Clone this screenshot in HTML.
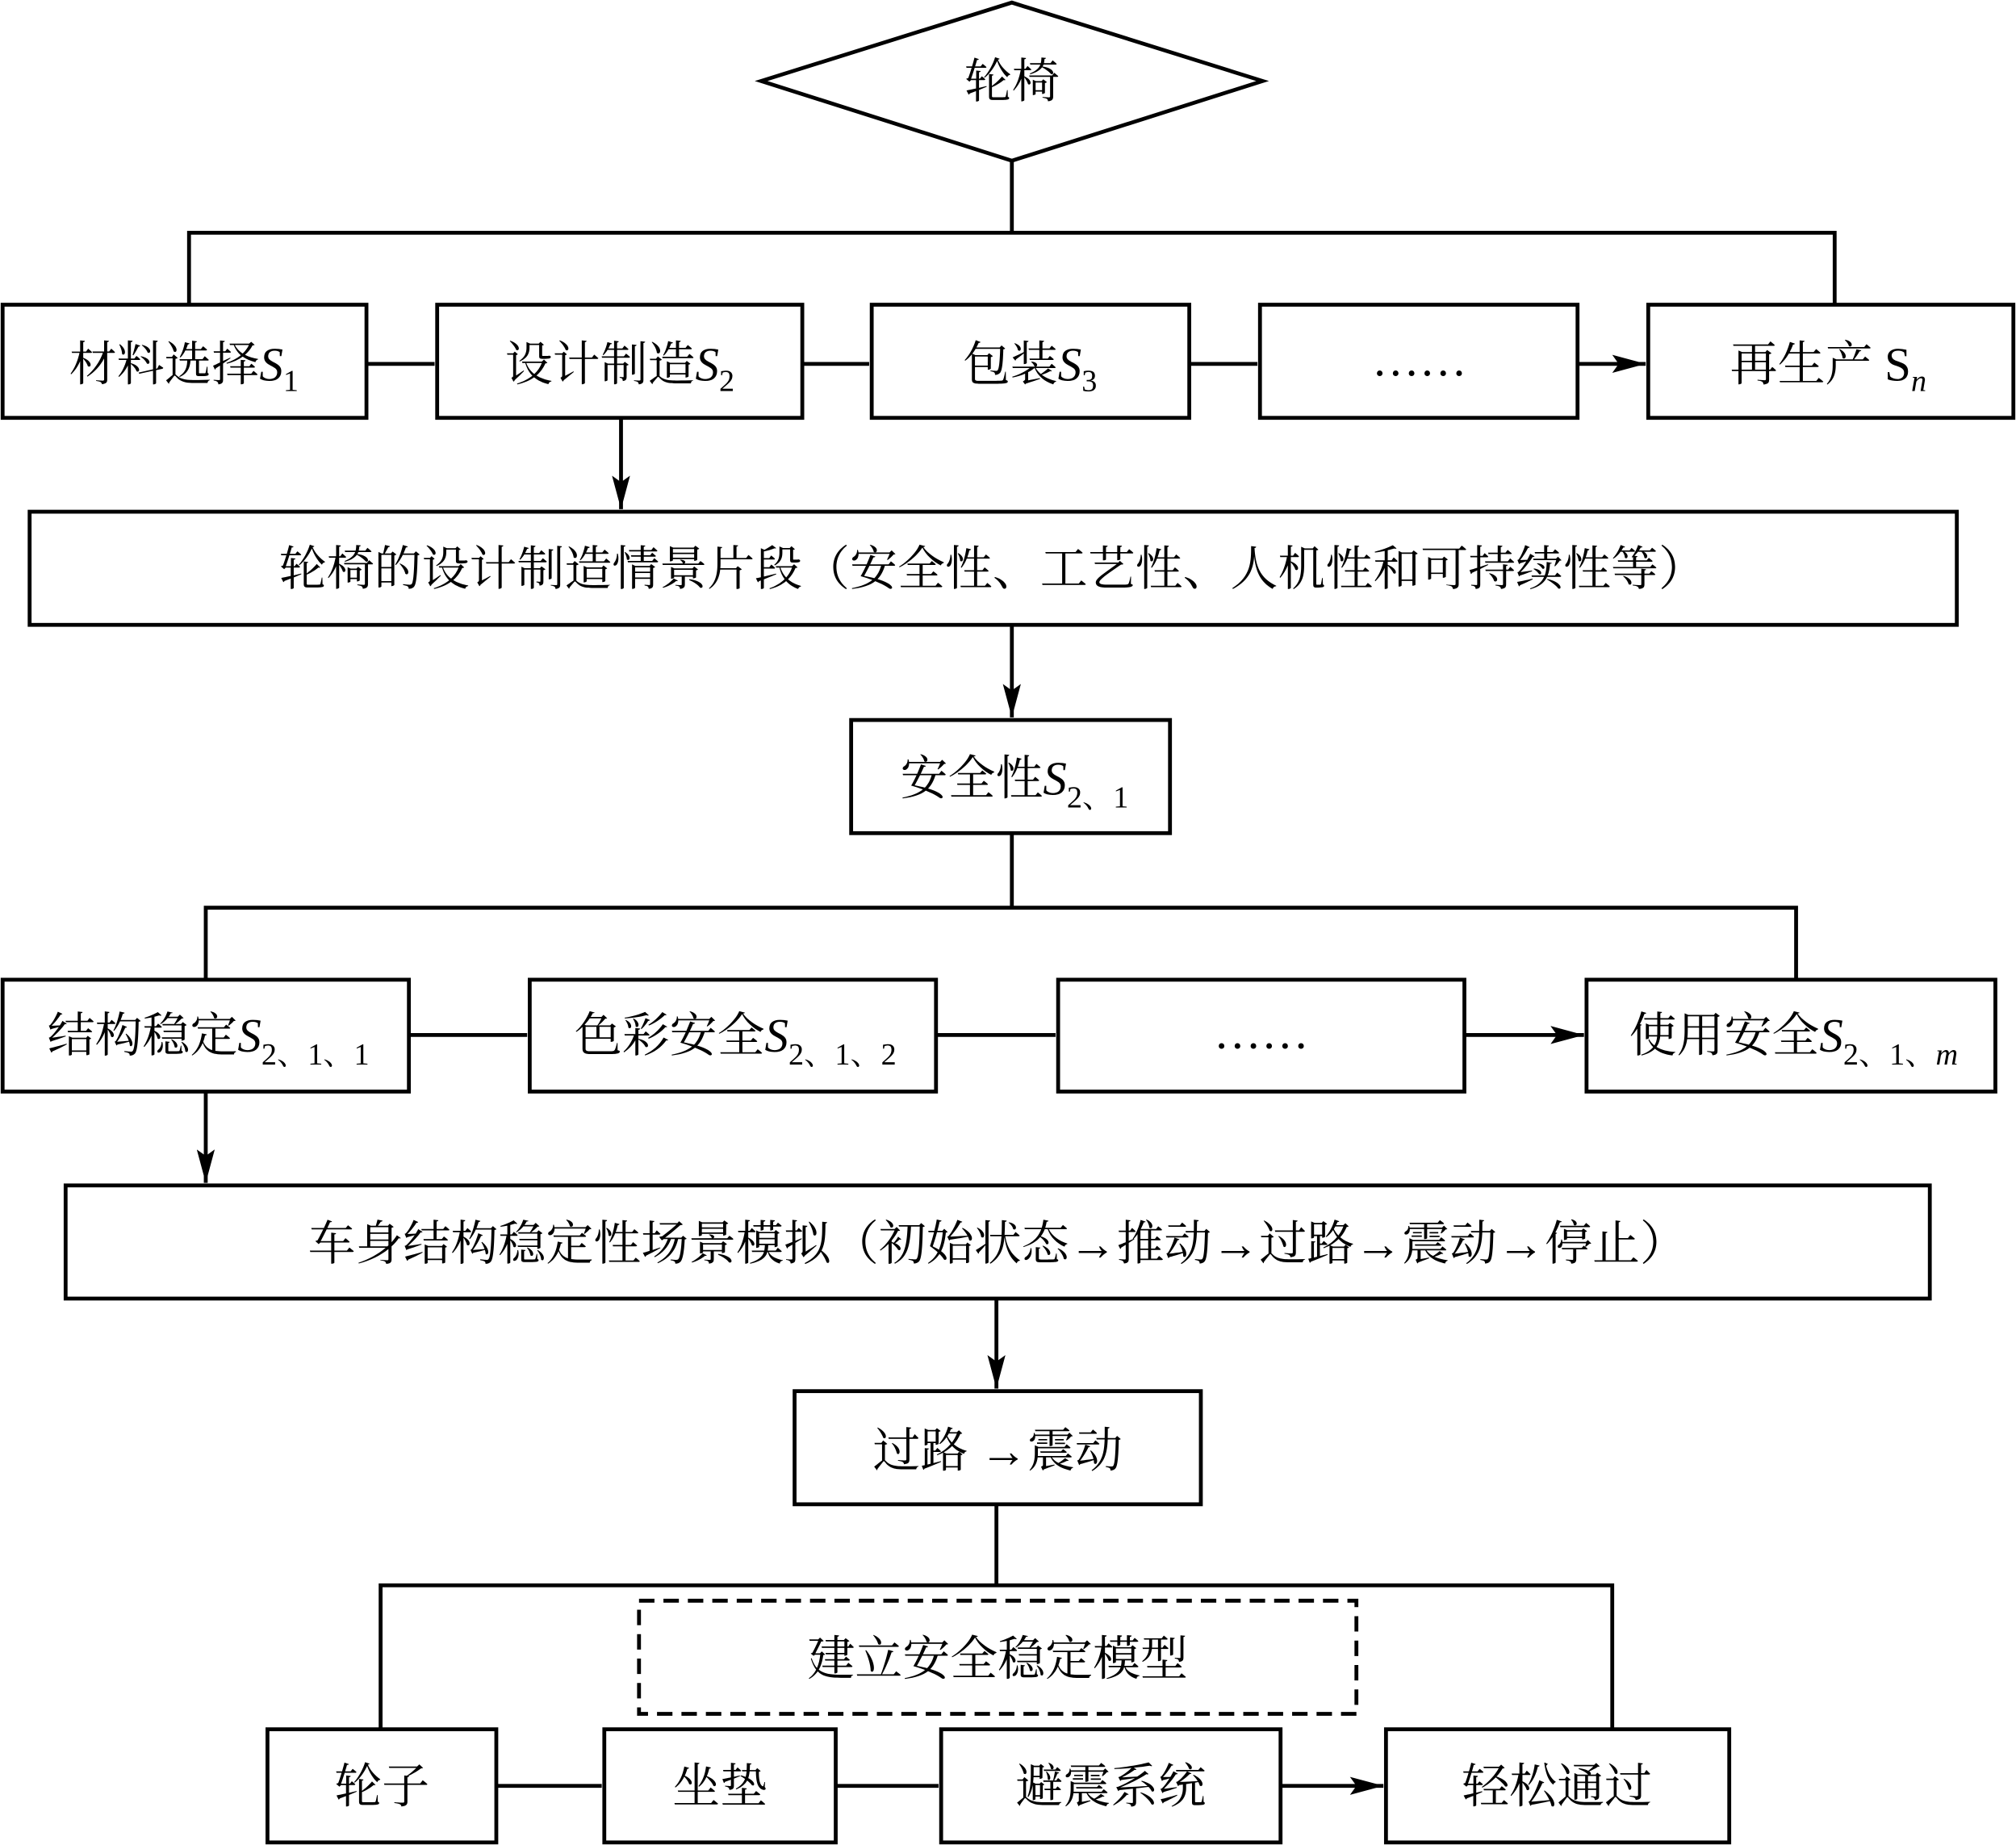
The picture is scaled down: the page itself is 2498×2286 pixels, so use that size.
<!DOCTYPE html>
<html><head><meta charset="utf-8"><style>html,body{margin:0;padding:0;background:#fff}svg{display:block}</style></head>
<body>
<svg width="2498" height="2286" viewBox="0 0 1568 1435" xmlns="http://www.w3.org/2000/svg" font-family="'Liberation Serif','Noto Serif CJK SC','Noto Sans CJK SC',serif" font-size="37">
<defs><marker id="a" markerWidth="10" markerHeight="8" refX="10" refY="4" orient="auto" markerUnits="userSpaceOnUse" viewBox="0 0 10 8"><path d="M0,0 L10,4 L0,8 z" fill="#000"/></marker>
<marker id="b" markerWidth="26" markerHeight="14" refX="26" refY="7" orient="auto" markerUnits="userSpaceOnUse"><path d="M0,0 L26,7 L0,14 L5,7 z" fill="#000"/></marker></defs>
<g fill="none" stroke="#000" stroke-width="3">
<polygon points="592,63 787,2 982,63 787,125" fill="#fff"/>
<path d="M787,125 V181 M147,237 V181 H1427 V237"/>
<rect x="2" y="237" width="283" height="88"/><rect x="340" y="237" width="284" height="88"/><rect x="678" y="237" width="247" height="88"/><rect x="980" y="237" width="247" height="88"/><rect x="1282" y="237" width="284" height="88"/>
<path d="M285,283 H338 M624,283 H676 M925,283 H978 M1227,283 H1280" marker-end="url(#b)"/>
<path d="M483,325 V396" marker-end="url(#b)"/>
<rect x="23" y="398" width="1499" height="88"/>
<path d="M787,486 V558" marker-end="url(#b)"/>
<rect x="662" y="560" width="248" height="88"/>
<path d="M787,648 V706 M160,762 V706 H1397 V762"/>
<rect x="2" y="762" width="316" height="87"/><rect x="412" y="762" width="316" height="87"/><rect x="823" y="762" width="316" height="87"/><rect x="1234" y="762" width="318" height="87"/>
<path d="M318,805 H410 M728,805 H821 M1139,805 H1232" marker-end="url(#b)"/>
<path d="M160,849 V920" marker-end="url(#b)"/>
<rect x="51" y="922" width="1450" height="88"/>
<path d="M775,1010 V1080" marker-end="url(#b)"/>
<rect x="618" y="1082" width="316" height="88"/>
<path d="M775,1170 V1233 M296,1345 V1233 H1254 V1345"/>
<rect x="497" y="1245" width="558" height="88" stroke-dasharray="12,7"/>
<rect x="208" y="1345" width="178" height="88"/><rect x="470" y="1345" width="180" height="88"/><rect x="732" y="1345" width="264" height="88"/><rect x="1078" y="1345" width="267" height="88"/>
<path d="M386,1389 H468 M650,1389 H730 M996,1389 H1076" marker-end="url(#b)"/>
</g>
<g fill="#000" text-anchor="middle">
<text x="787" y="76">轮椅</text>
<text x="143" y="296">材料选择<tspan font-style="italic">S</tspan><tspan font-size="24" dy="8">1</tspan></text>
<text x="482" y="296">设计制造<tspan font-style="italic">S</tspan><tspan font-size="24" dy="8">2</tspan></text>
<text x="801" y="296">包装<tspan font-style="italic">S</tspan><tspan font-size="24" dy="8">3</tspan></text>
<text x="1104" y="292">……</text>
<text x="1422" y="296">再生产 S<tspan font-size="24" font-style="italic" dy="8">n</tspan></text>
<text x="772" y="455">轮椅的设计制造情景片段（安全性、工艺性、人机性和可持续性等）</text>
<text x="789" y="618">安全性<tspan font-style="italic">S</tspan><tspan font-size="24" dy="10">2、1</tspan></text>
<text x="162" y="818">结构稳定<tspan font-style="italic">S</tspan><tspan font-size="24" dy="10">2、1、1</tspan></text>
<text x="572" y="818">色彩安全<tspan font-style="italic">S</tspan><tspan font-size="24" dy="10">2、1、2</tspan></text>
<text x="981" y="815">……</text>
<text x="1395" y="818">使用安全<tspan font-style="italic">S</tspan><tspan font-size="24" dy="10">2、1、<tspan font-style="italic">m</tspan></tspan></text>
<text x="776" y="980">车身结构稳定性场景模拟（初始状态→推动→过路→震动→停止）</text>
<text x="776" y="1141">过路 →震动</text>
<text x="776" y="1303">建立安全稳定模型</text>
<text x="297" y="1402">轮子</text>
<text x="560" y="1402">坐垫</text>
<text x="864" y="1402">避震系统</text>
<text x="1211" y="1402">轻松通过</text>
</g>
</svg>
</body></html>
